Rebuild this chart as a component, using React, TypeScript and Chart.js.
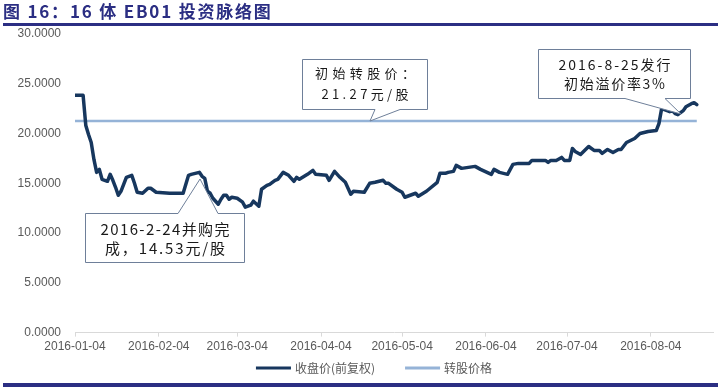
import React, { useEffect, useRef } from "react";
import { Chart, registerables } from "chart.js";

Chart.register(...registerables);

// ---- data ----
// days since 2016-01-04 (calendar days, date axis)
const dayOffsets = [
  0, 3, 4, 5, 6, 7, 8, 9, 10, 11, 12, 13, 14, 15, 16, 17, 18, 19, 21, 22, 23, 25, 27, 28, 30, 35, 40,
  42, 43, 46, 47, 48, 49, 50, 51, 53, 54, 55, 56, 57, 58, 60, 62, 63, 65, 66, 68, 69, 71, 72, 74, 75,
  77, 79, 81, 82, 83, 86, 88, 89, 93, 94, 96, 98, 100, 102, 103, 107, 109, 111, 114, 115, 116, 119,
  121, 122, 124, 126, 127, 130, 134, 135, 137, 138, 140, 141, 143, 148, 150, 154, 155, 157, 160, 162,
  164, 168, 169, 172, 174, 175, 176, 178, 180, 181, 183, 184, 185, 187, 190, 192, 194, 195, 197, 199,
  201, 202, 204, 207, 209, 212, 215, 216, 217, 218, 220, 221, 222, 223, 225, 226, 228, 229, 230,
];
const closePrice = [
  23.84, 23.84, 20.8, 19.9, 19.1, 17.4, 16.1, 16.4, 15.4, 15.3, 15.2, 15.9, 15.3, 14.6, 13.8, 14.2, 14.9, 15.6, 15.8, 15.0, 14.1, 14.0, 14.5, 14.5, 14.1, 14.0, 14.0,
  15.8, 15.9, 16.1, 15.7, 15.5, 14.2, 14.0, 13.5, 12.9, 13.4, 13.8, 13.8, 13.4, 13.6, 13.5, 13.1, 12.6, 12.8, 13.2, 12.7, 14.4, 14.8, 14.9, 15.3, 15.4,
  16.1, 15.8, 15.2, 15.6, 15.4, 15.9, 16.3, 15.9, 15.8, 15.3, 16.2, 15.6, 15.1, 13.9, 14.2, 14.1, 15.0, 15.1, 15.3, 15.0, 15.0, 14.4,
  14.1, 13.6, 13.8, 14.0, 13.7, 14.2, 15.1, 16.0, 16.0, 16.1, 16.2, 16.8, 16.5, 16.7, 16.4, 15.9, 16.4, 16.1, 15.9, 16.9,
  17.0, 17.0, 17.3, 17.3, 17.3, 17.1, 17.3, 17.3, 17.6, 17.3, 17.3, 18.5, 18.2, 17.9, 18.7, 18.3, 18.3, 18.0, 18.4, 18.1,
  18.4, 18.4, 19.1, 19.5, 20.0, 20.2, 20.3, 21.0, 22.5, 22.4, 22.2, 22.3, 22.0, 21.9, 22.3, 22.7, 23.0, 23.1, 22.9,
];
const conversionPrice = 21.27;
const conversionSpan = [0, 230];

const tickDays = [0, 31, 60, 91, 121, 152, 182, 213];
const tickLabels = [
  "2016-01-04", "2016-02-04", "2016-03-04", "2016-04-04",
  "2016-05-04", "2016-06-04", "2016-07-04", "2016-08-04",
];
const axisMaxDay = 236;
const yMin = 0;
const yMax = 30;
const yStep = 5;

const seriesNames = ["收盘价(前复权)", "转股价格"];
const seriesColors = ["#17375E", "#95B3D7"];
const titleText = "图 16：16 体 EB01 投资脉络图";

// ---- callouts (layout) ----
type Callout = {
  x: number; y: number; w: number; h: number;
  side: "top" | "bottom"; b1: number; b2: number; tipX: number; tipY: number;
  lines: string[]; lineY: number[]; lineW: number[]; size: number;
};
const callouts: Callout[] = [
  {
    x: 302.5, y: 59.5, w: 125, h: 50, side: "bottom", b1: 375, b2: 400, tipX: 370, tipY: 121,
    lines: ["初始转股价：", "21.27元/股"], lineY: [73, 94], lineW: [100, 87], size: 13,
  },
  {
    x: 538.5, y: 49.5, w: 152, h: 49, side: "bottom", b1: 625, b2: 665, tipX: 681, tipY: 114,
    lines: ["2016-8-25发行", "初始溢价率3%"], lineY: [65, 84], lineW: [112, 101], size: 14,
  },
  {
    x: 85.5, y: 213.5, w: 159, h: 49, side: "top", b1: 178, b2: 218, tipX: 200, tipY: 179,
    lines: ["2016-2-24并购完", "成，14.53元/股"], lineY: [229, 248], lineW: [129, 120], size: 15,
  },
];

const CJK = '"Noto Sans CJK SC", "Liberation Sans", Arial, sans-serif';
const LAT = '"Liberation Sans", Arial, "Noto Sans CJK SC", sans-serif';

function drawSpaced(ctx: CanvasRenderingContext2D, text: string, cx: number, cy: number, targetW: number) {
  const chars = Array.from(text);
  const widths = chars.map((ch) => ctx.measureText(ch).width);
  const total = widths.reduce((a, b) => a + b, 0);
  const gap = chars.length > 1 ? Math.max(0, (targetW - total) / (chars.length - 1)) : 0;
  const realW = total + gap * (chars.length - 1);
  let x = cx - realW / 2;
  chars.forEach((ch, i) => {
    ctx.fillText(ch, x, cy);
    x += widths[i] + gap;
  });
}

const calloutPlugin = {
  id: "callouts",
  afterDatasetsDraw(chart: any) {
    const ctx: CanvasRenderingContext2D = chart.ctx;
    ctx.save();
    callouts.forEach((c) => {
      ctx.beginPath();
      if (c.side === "bottom") {
        ctx.moveTo(c.x, c.y);
        ctx.lineTo(c.x + c.w, c.y);
        ctx.lineTo(c.x + c.w, c.y + c.h);
        ctx.lineTo(c.b2, c.y + c.h);
        ctx.lineTo(c.tipX, c.tipY);
        ctx.lineTo(c.b1, c.y + c.h);
        ctx.lineTo(c.x, c.y + c.h);
      } else {
        ctx.moveTo(c.x, c.y);
        ctx.lineTo(c.b1, c.y);
        ctx.lineTo(c.tipX, c.tipY);
        ctx.lineTo(c.b2, c.y);
        ctx.lineTo(c.x + c.w, c.y);
        ctx.lineTo(c.x + c.w, c.y + c.h);
        ctx.lineTo(c.x, c.y + c.h);
      }
      ctx.closePath();
      ctx.fillStyle = "#ffffff";
      ctx.fill();
      ctx.lineWidth = 1;
      ctx.strokeStyle = "#6E7F99";
      ctx.stroke();
      ctx.fillStyle = "#1a1a1a";
      ctx.font = `${c.size}px ${CJK}`;
      ctx.textBaseline = "middle";
      ctx.textAlign = "left";
      const cx = c.x + c.w / 2;
      c.lines.forEach((t, i) => drawSpaced(ctx, t, cx, c.lineY[i], c.lineW[i]));
    });
    ctx.restore();
  },
};

// custom bottom legend
const legendPlugin = {
  id: "bottomLegend",
  afterDraw(chart: any) {
    const ctx: CanvasRenderingContext2D = chart.ctx;
    const sampleW = 35;
    const textGap = 4;
    const itemGap = 30;
    const y = 368;
    ctx.save();
    ctx.font = `12px ${CJK}`;
    const widths = seriesNames.map((n) => ctx.measureText(n).width);
    const total = widths.reduce((a, w) => a + sampleW + textGap + w, 0) + itemGap * (seriesNames.length - 1);
    const center = (chart.chartArea.left + chart.chartArea.right) / 2 - 20;
    let x = center - total / 2;
    seriesNames.forEach((n, i) => {
      ctx.fillStyle = seriesColors[i];
      ctx.fillRect(x, y - 1.5, sampleW, 3);
      x += sampleW + textGap;
      ctx.fillStyle = "#595959";
      ctx.textBaseline = "middle";
      ctx.textAlign = "left";
      ctx.fillText(n, x, y);
      x += widths[i] + itemGap;
    });
    ctx.restore();
  },
};

export default function App() {
  const ref = useRef<HTMLCanvasElement | null>(null);

  useEffect(() => {
    if (!ref.current) return;
    const closeData = dayOffsets.map((d, i) => ({ x: d, y: closePrice[i] }));
    const convData = conversionSpan.map((d) => ({ x: d, y: conversionPrice }));
    const chart = new Chart(ref.current, {
      type: "line",
      data: {
        datasets: [
          {
            label: seriesNames[0],
            data: closeData,
            borderColor: seriesColors[0],
            backgroundColor: seriesColors[0],
            borderWidth: 3.5,
            pointRadius: 0,
            tension: 0,
            borderJoinStyle: "round",
            borderCapStyle: "round",
            order: 1,
          },
          {
            label: seriesNames[1],
            data: convData,
            borderColor: seriesColors[1],
            backgroundColor: seriesColors[1],
            borderWidth: 2.5,
            pointRadius: 0,
            tension: 0,
            order: 2,
          },
        ],
      },
      options: {
        animation: false,
        responsive: false,
        maintainAspectRatio: false,
        events: [],
        layout: { padding: { left: 14, right: 8, top: 34, bottom: 34 } },
        plugins: {
          tooltip: { enabled: false },
          legend: { display: false },
        },
        scales: {
          x: {
            type: "linear",
            min: 0,
            max: axisMaxDay,
            afterBuildTicks: (scale: any) => {
              scale.ticks = tickDays.map((v) => ({ value: v }));
            },
            ticks: {
              autoSkip: false,
              maxRotation: 0,
              padding: 3,
              color: "#595959",
              font: { size: 12, family: LAT },
              callback: (v: any) => {
                const i = tickDays.indexOf(Number(v));
                return i >= 0 ? tickLabels[i] : "";
              },
            },
            grid: { display: true, drawOnChartArea: false, drawTicks: true, tickLength: 4, color: "#D9D9D9" },
            border: { display: true, color: "#D9D9D9", width: 1 },
          },
          y: {
            min: yMin,
            max: yMax,
            afterFit: (scale: any) => {
              scale.width = 61;
            },
            ticks: {
              stepSize: yStep,
              padding: 14,
              color: "#595959",
              font: { size: 12, family: LAT },
              callback: (v: any) => Number(v).toFixed(4),
            },
            grid: { display: false, drawTicks: false },
            border: { display: false },
          },
        },
      },
      plugins: [calloutPlugin, legendPlugin],
    } as any);
    return () => chart.destroy();
  }, []);

  return (
    <div style={{ position: "absolute", left: 0, top: 0, width: 721, height: 391, background: "#fff", overflow: "hidden" }}>
      <canvas ref={ref} width={721} height={391} style={{ position: "absolute", left: 0, top: 0, width: 721, height: 391 }} />
      <div
        style={{
          position: "absolute", left: 3, top: 0, height: 22, lineHeight: "22px",
          fontFamily: CJK, fontWeight: 700, fontSize: 17, letterSpacing: 1.8, color: "#2B2E83", whiteSpace: "nowrap",
        }}
      >
        {titleText}
      </div>
      <div style={{ position: "absolute", left: 3, top: 23, width: 715, height: 3, background: "#2B2E83" }} />
      <div style={{ position: "absolute", left: 3, top: 383, width: 715, height: 4, background: "#2B2E83" }} />
    </div>
  );
}
